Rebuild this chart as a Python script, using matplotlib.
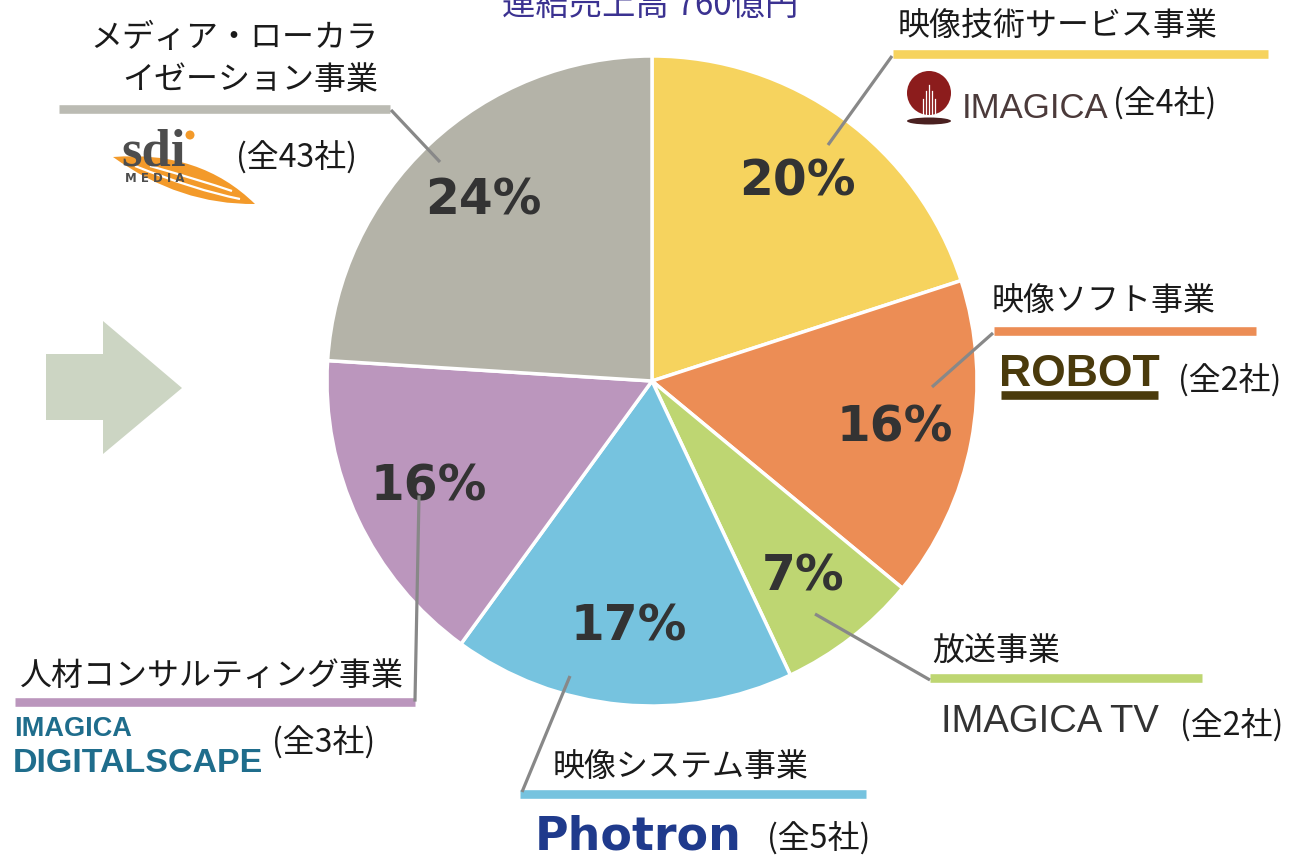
import matplotlib
matplotlib.use("Agg")
import matplotlib.pyplot as plt
from matplotlib import font_manager
from matplotlib.patches import Polygon, Circle, Ellipse, PathPatch
from matplotlib.path import Path

# ---- data ----
segments = ["映像技術サービス事業", "映像ソフト事業", "放送事業",
            "映像システム事業", "人材コンサルティング事業",
            "メディア・ローカラ\nイゼーション事業"]
shares = [20, 16, 7, 17, 16, 24]
companies = ["(全4社)", "(全2社)", "(全2社)", "(全5社)", "(全3社)", "(全43社)"]
title = "連結売上高 760億円"

wedge_colors = ["#f6d35e", "#ec8d55", "#bed672", "#76c3df", "#bb96bd", "#b4b3a8"]
bar_colors = ["#f6d35e", "#ec8d55", "#bed672", "#76c3df", "#bb96bd", "#bbbbb3"]

JP = ["Noto Sans CJK JP", "DejaVu Sans"]
names = {f.name for f in font_manager.fontManager.ttflist}
NARROW = "Liberation Sans Narrow" if "Liberation Sans Narrow" in names else "Liberation Sans"

W, H = 1297, 858
fig = plt.figure(figsize=(W / 100, H / 100), dpi=100)
ax = fig.add_axes([0, 0, 1, 1])

cx, cy, R = 652, 381, 325
wedges, texts, autotexts = ax.pie(
    shares, colors=wedge_colors, startangle=-90, counterclock=True,
    center=(cx, cy), radius=R,
    wedgeprops=dict(edgecolor="white", linewidth=2.5),
    autopct=lambda p: f"{p:.0f}%", pctdistance=0.76,
    textprops=dict(fontsize=35, fontweight="bold", color="#333333",
                   family="DejaVu Sans"))
ax.set_xlim(0, W)
ax.set_ylim(H, 0)
ax.set_aspect("equal")
ax.set_axis_off()

LEAD = "#888888"

def bar(x0, x1, y, color):
    ax.plot([x0, x1], [y, y], color=color, lw=6.2, solid_capstyle="butt", zorder=3)

def lead(p0, p1):
    ax.plot([p0[0], p1[0]], [p0[1], p1[1]], color=LEAD, lw=2.3, zorder=4,
            solid_capstyle="butt")

def jtext(x, y, s, ha="left", size=23, color="#1a1a1a"):
    ax.text(x, y, s, ha=ha, va="center", fontsize=size, family=JP, color=color,
            zorder=5, linespacing=1.25)

# title (cut at top, as in the reference)
ax.text(502, 15, title, ha="left", va="baseline", fontsize=24, family=JP,
        color="#3b3291")

# arrow
ax.add_patch(Polygon([(46, 354), (103, 354), (103, 321), (182, 388),
                      (103, 454), (103, 420), (46, 420)],
                     closed=True, facecolor="#ccd5c3", edgecolor="none"))

# --- 映像技術サービス事業 ---
jtext(898, 26, segments[0])
bar(893, 1268, 54, bar_colors[0])
lead((828, 145), (892, 56))
ax.add_patch(Circle((929, 93), 22, facecolor="#8c1c1c", edgecolor="none", zorder=5))
for dx, h in [(-6, 16), (-3, 24), (0, 30), (3, 24), (6, 16)]:
    ax.plot([929 + dx, 929 + dx], [115, 115 - h], color="white", lw=0.9, zorder=6)
ax.add_patch(Ellipse((929, 121), 44, 7, facecolor="#4a2020", edgecolor="none", zorder=5))
ax.text(962, 108, "IMAGICA", ha="left", va="center", fontsize=25,
        family="Liberation Sans", color="#4b3a3a", zorder=5)
jtext(1113, 103, companies[0])

# --- 映像ソフト事業 ---
jtext(992, 301, segments[1])
bar(994, 1256, 331, bar_colors[1])
lead((932, 387), (993, 333))
ax.text(999, 375, "ROBOT", ha="left", va="center", fontsize=32,
        fontweight="heavy", family="Liberation Sans", color="#4a3a0c", zorder=5)
bar(1001, 1158, 395, "#4a3a0c")
jtext(1178, 380, companies[1])

# --- 放送事業 ---
jtext(932, 651, segments[2])
bar(930, 1202, 678, bar_colors[2])
lead((815, 614), (930, 680))
ax.text(941, 722, "IMAGICA TV", ha="left", va="center", fontsize=27.5,
        family="Liberation Sans", color="#333333", zorder=5)
jtext(1180, 725, companies[2])

# --- 映像システム事業 ---
jtext(553, 767, segments[3])
bar(520, 866, 794, bar_colors[3])
lead((570, 676), (522, 792))
ax.text(535, 837, "Photron", ha="left", va="center", fontsize=33,
        fontweight="bold", family="DejaVu Sans", color="#1f3a8c", zorder=5)
jtext(767, 838, companies[3])

# --- 人材コンサルティング事業 ---
jtext(20, 676, segments[4])
bar(15, 415, 702, bar_colors[4])
ax.plot([419, 415], [497, 700], color=LEAD, lw=2.3, zorder=4)
ax.text(14, 729, "IMAGICA", ha="left", va="center", fontsize=19.5,
        fontweight="bold", family="Liberation Sans", color="#1f6d8c", zorder=5)
ax.text(13, 763, "DIGITALSCAPE", ha="left", va="center",
        fontsize=29 if NARROW != "Liberation Sans" else 24.5,
        fontweight="bold", family=NARROW, color="#1f6d8c", zorder=5)
jtext(272, 742, companies[4])

# --- メディア・ローカラ イゼーション事業 ---
l1, l2 = segments[5].split("\n")
jtext(378, 38, l1, ha="right")
jtext(378, 80, l2, ha="right")
bar(59, 390, 109, bar_colors[5])
lead((440, 162), (391, 110))
# sdi logo
sw = Path([(113, 157), (180, 205), (255, 204), (200, 150), (113, 157)],
          [Path.MOVETO, Path.CURVE3, Path.CURVE3, Path.CURVE3, Path.CURVE3])
ax.add_patch(PathPatch(sw, facecolor="#f39a2a", edgecolor="none", zorder=5))
for p0, c, p1 in [((135, 166), (195, 190), (240, 199)),
                  ((150, 166), (200, 180), (232, 191))]:
    st = Path([p0, c, p1], [Path.MOVETO, Path.CURVE3, Path.CURVE3])
    ax.add_patch(PathPatch(st, facecolor="none", edgecolor="white", lw=1.6, zorder=5))
ax.text(121, 166, "sdi", ha="left", va="baseline", fontsize=38, fontweight="bold",
        family="Liberation Serif", color="#4d4d4d", zorder=6)
ax.add_patch(Circle((190, 135), 4.5, facecolor="#f39a2a", edgecolor="none", zorder=7))
ax.text(125, 179, "M E D I A", ha="left", va="center", fontsize=8.5, fontweight="bold",
        family="DejaVu Sans", color="#4d4d4d", zorder=6)
jtext(236, 157, companies[5])

fig.savefig("out.png", dpi=100)
